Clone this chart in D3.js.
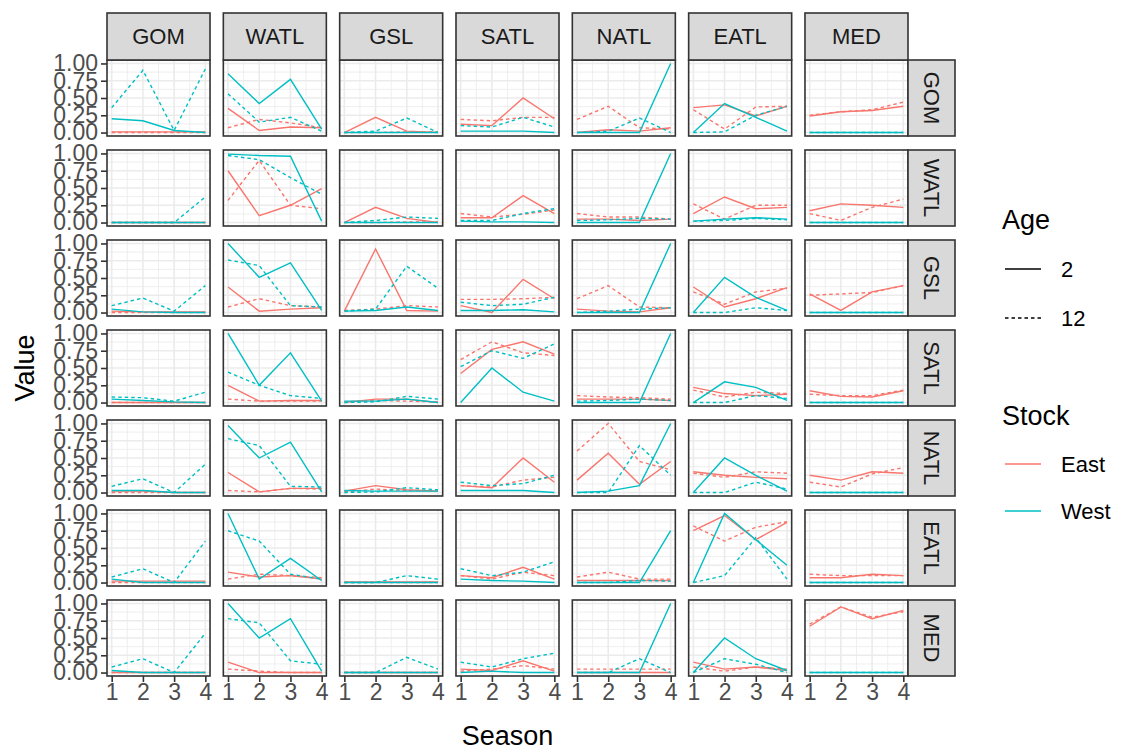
<!DOCTYPE html>
<html>
<head>
<meta charset="utf-8">
<script src="https://cdn.jsdelivr.net/npm/d3@7"></script>
<style>
  body { margin: 0; background: #fff; }
  svg { display: block; font-family: "Liberation Sans", Arial, sans-serif; }
</style>
</head>
<body>
<div class="container"></div>
<script>
// facet labels (rows and columns use the same regions)
const regions = ["GOM", "WATL", "GSL", "SATL", "NATL", "EATL", "MED"];
const seasons = [1, 2, 3, 4];
const yTicks = [0, 0.25, 0.5, 0.75, 1];

// values per panel: row region -> column region -> seasons 1..4
const eastAge2 = [
  [[0.01,0.01,0.01,0.01],[0.35,0.03,0.08,0.07],[0,0.22,0.02,0],[0.12,0.10,0.50,0.20],[0,0.04,0.02,0.07],[0.36,0.40,0.24,0.38],[0.24,0.30,0.32,0.38]],
  [[0,0,0,0],[0.75,0.10,0.25,0.49],[0,0.22,0.06,0],[0.07,0.07,0.39,0.13],[0.05,0.05,0.03,0.05],[0.13,0.37,0.20,0.22],[0.17,0.27,0.25,0.22]],
  [[0.02,0.01,0.01,0.01],[0.37,0.02,0.05,0.07],[0.02,0.92,0.03,0.02],[0.10,0,0.48,0.20],[0.05,0.02,0.01,0.07],[0.37,0.08,0.20,0.36],[0.27,0.03,0.30,0.39]],
  [[0,0,0,0],[0.25,0.02,0.03,0.03],[0,0.05,0.05,0],[0.42,0.77,0.88,0.70],[0.05,0.05,0.05,0.03],[0.22,0.13,0.10,0.12],[0.17,0.09,0.08,0.17]],
  [[0.02,0.02,0,0],[0.29,0.01,0.06,0.06],[0.02,0.10,0.04,0.02],[0.10,0.07,0.50,0.15],[0.18,0.57,0.12,0.45],[0.30,0.25,0.22,0.20],[0.25,0.18,0.30,0.28]],
  [[0.02,0.02,0.02,0.02],[0.15,0.08,0.10,0.05],[0.01,0.01,0.01,0.01],[0.10,0.07,0.22,0.05],[0.03,0.03,0.03,0.03],[0.75,0.97,0.62,0.87],[0.07,0.07,0.12,0.10]],
  [[0,0,0,0],[0.15,0,0,0],[0,0,0,0],[0.05,0.03,0.17,0.02],[0,0,0,0],[0.15,0.05,0.08,0.03],[0.67,0.95,0.78,0.90]]
];
const eastAge12 = [
  [[0,0,0,0],[0.07,0.19,0.14,0.07],[0,0,0.01,0.01],[0.19,0.17,0.22,0.22],[0.19,0.38,0.07,0.05],[0.33,0.05,0.37,0.38],[0.25,0.30,0.33,0.44]],
  [[0,0,0,0],[0.32,0.90,0.25,0.20],[0,0,0.01,0.01],[0.13,0.08,0.12,0.18],[0.13,0.08,0.08,0.05],[0.27,0.05,0.25,0.25],[0.13,0.03,0.22,0.34]],
  [[0,0,0,0],[0.08,0.20,0.10,0.08],[0.03,0.05,0.10,0.08],[0.19,0.19,0.20,0.22],[0.20,0.39,0.08,0.07],[0.30,0.12,0.30,0.35],[0.25,0.27,0.29,0.39]],
  [[0,0,0,0],[0.05,0.02,0.02,0.02],[0.01,0.03,0.02,0.01],[0.62,0.88,0.72,0.68],[0.10,0.08,0.07,0.05],[0.18,0.08,0.15,0.13],[0.12,0.10,0.10,0.18]],
  [[0,0,0,0],[0.03,0.01,0.06,0.05],[0.01,0.05,0.03,0.03],[0.10,0.08,0.18,0.22],[0.60,1.00,0.45,0.33],[0.28,0.22,0.30,0.28],[0.15,0.08,0.27,0.36]],
  [[0,0,0,0],[0.05,0.12,0.10,0.07],[0,0,0,0],[0.10,0.05,0.15,0.10],[0.08,0.15,0.05,0.05],[0.82,0.60,0.80,0.88],[0.12,0.10,0.10,0.10]],
  [[0,0,0,0],[0.05,0.02,0,0],[0,0,0,0],[0.02,0.05,0.10,0.05],[0.05,0.05,0.05,0.05],[0.08,0.02,0.08,0.05],[0.70,0.95,0.80,0.88]]
];
const westAge2 = [
  [[0.20,0.17,0.03,0],[0.85,0.42,0.77,0.05],[0,0,0,0],[0.02,0.02,0.02,0],[0,0,0,1.00],[0,0.42,0.22,0.02],[0,0,0,0]],
  [[0,0,0,0],[0.99,0.97,0.96,0.02],[0,0,0,0],[0.02,0.01,0.01,0],[0,0,0,1.00],[0.02,0.05,0.07,0.05],[0,0,0,0]],
  [[0.05,0.01,0,0],[1.00,0.51,0.72,0.03],[0.02,0.03,0.08,0.03],[0.03,0.03,0.04,0.01],[0,0,0,1.00],[0,0.51,0.22,0.03],[0,0,0,0]],
  [[0.05,0.03,0.01,0],[1.00,0.25,0.72,0.02],[0.02,0.02,0.05,0],[0,0.50,0.15,0.02],[0,0,0,1.00],[0,0.30,0.22,0.03],[0,0,0,0]],
  [[0.03,0.03,0,0],[0.97,0.50,0.73,0.01],[0.03,0.02,0.02,0.02],[0.03,0.03,0.03,0],[0,0.02,0.10,1.00],[0,0.50,0.25,0.02],[0,0,0,0]],
  [[0.05,0,0,0],[1.00,0.05,0.35,0.03],[0,0,0,0],[0.05,0.03,0.02,0],[0,0,0,0.75],[0,1.00,0.62,0.25],[0,0,0,0]],
  [[0.03,0,0,0],[1.00,0.50,0.78,0.02],[0,0,0,0],[0,0.02,0,0],[0,0,0,1.00],[0,0.50,0.20,0.03],[0,0,0,0]]
];
const westAge12 = [
  [[0.36,0.90,0.03,0.92],[0.56,0.15,0.22,0.02],[0,0.02,0.21,0],[0.10,0.08,0.22,0.08],[0,0.02,0.21,0],[0,0.01,0.25,0.38],[0,0,0,0]],
  [[0,0,0,0.37],[0.97,0.91,0.65,0.41],[0,0.03,0.08,0.06],[0.03,0.03,0.13,0.20],[0.03,0.04,0.06,0.05],[0.02,0.03,0.06,0.04],[0,0,0,0]],
  [[0.10,0.21,0.02,0.39],[0.76,0.68,0.10,0.08],[0.02,0.05,0.67,0.35],[0.15,0.10,0.12,0.22],[0,0.02,0.05,0.07],[0,0,0.07,0.03],[0,0,0,0]],
  [[0.08,0.07,0.02,0.15],[0.44,0.25,0.10,0.06],[0,0.01,0.09,0.05],[0.52,0.75,0.64,0.85],[0.02,0.03,0.05,0.03],[0,0,0.10,0.06],[0,0,0,0]],
  [[0.09,0.20,0,0.41],[0.78,0.68,0.09,0.08],[0,0.01,0.07,0.04],[0.15,0.10,0.13,0.25],[0,0,0.68,0.25],[0,0,0.15,0.05],[0,0,0,0]],
  [[0.08,0.20,0,0.60],[0.75,0.60,0.12,0.05],[0,0,0.10,0.05],[0.20,0.10,0.15,0.30],[0,0,0.03,0.02],[0,0.10,0.65,0.05],[0,0,0,0]],
  [[0.08,0.20,0,0.57],[0.78,0.72,0.17,0.12],[0,0,0.22,0.05],[0.15,0.08,0.20,0.28],[0,0,0.20,0],[0,0.20,0.12,0],[0,0,0,0]]
];

const series = [
  { stock: "East", age: "2", values: eastAge2 },
  { stock: "East", age: "12", values: eastAge12 },
  { stock: "West", age: "2", values: westAge2 },
  { stock: "West", age: "12", values: westAge12 }
];

const width = 1126;
const height = 751;
const stripSize = 47;
const colour = { East: "#F8766D", West: "#00BFC4" };
const dash = { "2": null, "12": "3.5,3" };

const svg = d3.select(".container")
  .append("svg")
  .attr("width", width)
  .attr("height", height);

svg.append("rect").attr("width", width).attr("height", height).attr("fill", "#fff");

// panel layout
const colBand = d3.scaleBand().domain(regions).range([107, 908]).paddingInner(0.1144);
const rowBand = d3.scaleBand().domain(regions).range([60, 676]).paddingInner(0.1556);
const pw = colBand.bandwidth();
const ph = rowBand.bandwidth();

const x = d3.scaleLinear().domain([0.85, 4.15]).range([0, pw]);
const y = d3.scaleLinear().domain([-0.05, 1.05]).range([ph, 0]);

const line = d3.line()
  .x((d, i) => x(seasons[i]))
  .y(d => y(d));

regions.forEach((rowName, r) => {
  regions.forEach((colName, c) => {
    const g = svg.append("g")
      .attr("transform", `translate(${colBand(colName)},${rowBand(rowName)})`);

    g.append("rect").attr("width", pw).attr("height", ph).attr("fill", "#fff");

    // minor grid
    const minorX = [1.5, 2.5, 3.5];
    const minorY = [0.125, 0.375, 0.625, 0.875];
    g.selectAll(".mx").data(minorX).enter().append("line")
      .attr("x1", d => x(d)).attr("x2", d => x(d)).attr("y1", 0).attr("y2", ph)
      .attr("stroke", "#EBEBEB").attr("stroke-width", 0.8);
    g.selectAll(".my").data(minorY).enter().append("line")
      .attr("x1", 0).attr("x2", pw).attr("y1", d => y(d)).attr("y2", d => y(d))
      .attr("stroke", "#EBEBEB").attr("stroke-width", 0.8);
    // major grid
    g.selectAll(".gx").data(seasons).enter().append("line")
      .attr("x1", d => x(d)).attr("x2", d => x(d)).attr("y1", 0).attr("y2", ph)
      .attr("stroke", "#EBEBEB").attr("stroke-width", 1.6);
    g.selectAll(".gy").data(yTicks).enter().append("line")
      .attr("x1", 0).attr("x2", pw).attr("y1", d => y(d)).attr("y2", d => y(d))
      .attr("stroke", "#EBEBEB").attr("stroke-width", 1.6);

    series.forEach(s => {
      g.append("path")
        .attr("d", line(s.values[r][c]))
        .attr("fill", "none")
        .attr("stroke", colour[s.stock])
        .attr("stroke-width", 1.4)
        .attr("stroke-dasharray", dash[s.age]);
    });

    g.append("rect").attr("width", pw).attr("height", ph)
      .attr("fill", "none").attr("stroke", "#333333").attr("stroke-width", 1.6);
  });
});

// column strips
regions.forEach(name => {
  const g = svg.append("g").attr("transform", `translate(${colBand(name)},${rowBand("GOM") - stripSize})`);
  g.append("rect").attr("width", pw).attr("height", stripSize)
    .attr("fill", "#D9D9D9").attr("stroke", "#333333").attr("stroke-width", 1.6);
  g.append("text").attr("x", pw / 2).attr("y", stripSize / 2).attr("dy", "0.36em")
    .attr("text-anchor", "middle").attr("font-size", 22).attr("fill", "#1A1A1A").text(name);
});

// row strips
const stripX = colBand("MED") + pw;
regions.forEach(name => {
  const g = svg.append("g").attr("transform", `translate(${stripX},${rowBand(name)})`);
  g.append("rect").attr("width", stripSize).attr("height", ph)
    .attr("fill", "#D9D9D9").attr("stroke", "#333333").attr("stroke-width", 1.6);
  g.append("text")
    .attr("transform", `translate(${stripSize / 2},${ph / 2}) rotate(90)`)
    .attr("dy", "0.36em").attr("text-anchor", "middle")
    .attr("font-size", 22).attr("fill", "#1A1A1A").text(name);
});

// y axes
const yAxis = d3.axisLeft(y).tickValues(yTicks).tickFormat(d3.format(".2f")).tickSize(6).tickPadding(3);
regions.forEach(name => {
  const ax = svg.append("g")
    .attr("transform", `translate(${colBand("GOM")},${rowBand(name)})`)
    .call(yAxis);
  ax.select(".domain").remove();
  ax.selectAll(".tick line").attr("stroke", "#333333").attr("stroke-width", 1.6);
  ax.selectAll(".tick text").attr("font-size", 23).attr("fill", "#4D4D4D")
    .attr("font-family", "Liberation Sans, Arial, sans-serif");
});

// x axes
const xAxis = d3.axisBottom(x).tickValues(seasons).tickFormat(d3.format("d")).tickSize(6).tickPadding(2);
regions.forEach(name => {
  const ax = svg.append("g")
    .attr("transform", `translate(${colBand(name)},${rowBand("MED") + ph})`)
    .call(xAxis);
  ax.select(".domain").remove();
  ax.selectAll(".tick line").attr("stroke", "#333333").attr("stroke-width", 1.6);
  ax.selectAll(".tick text").attr("font-size", 23).attr("fill", "#4D4D4D")
    .attr("font-family", "Liberation Sans, Arial, sans-serif");
});

// axis titles
svg.append("text").attr("x", (107 + 908) / 2).attr("y", 745)
  .attr("text-anchor", "middle").attr("font-size", 27).attr("fill", "#000").text("Season");
svg.append("text")
  .attr("transform", `translate(34,${(60 + 676) / 2}) rotate(-90)`)
  .attr("text-anchor", "middle").attr("font-size", 27).attr("fill", "#000").text("Value");

// legends
const legend = svg.append("g").attr("id", "legend");
legend.append("text").attr("x", 1002).attr("y", 229).attr("font-size", 27).text("Age");
const ageKeys = [{ label: "2", y: 269 }, { label: "12", y: 318 }];
ageKeys.forEach(k => {
  legend.append("line").attr("x1", 1005).attr("x2", 1041).attr("y1", k.y).attr("y2", k.y)
    .attr("stroke", "#000").attr("stroke-width", 1.4).attr("stroke-dasharray", dash[k.label]);
  legend.append("text").attr("x", 1061).attr("y", k.y).attr("dy", "0.36em")
    .attr("font-size", 22).text(k.label);
});
legend.append("text").attr("x", 1002).attr("y", 425).attr("font-size", 27).text("Stock");
const stockKeys = [{ label: "East", y: 464 }, { label: "West", y: 511 }];
stockKeys.forEach(k => {
  legend.append("line").attr("x1", 1005).attr("x2", 1041).attr("y1", k.y).attr("y2", k.y)
    .attr("stroke", colour[k.label]).attr("stroke-width", 1.4);
  legend.append("text").attr("x", 1061).attr("y", k.y).attr("dy", "0.36em")
    .attr("font-size", 22).text(k.label);
});
</script>
</body>
</html>
